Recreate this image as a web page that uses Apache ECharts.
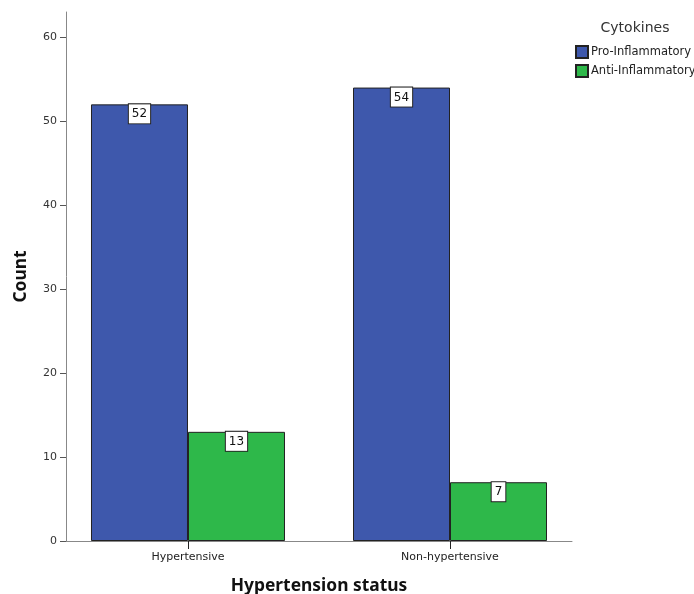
<!DOCTYPE html>
<html>
<head>
<meta charset="utf-8">
<script src="https://cdn.jsdelivr.net/npm/echarts@6/dist/echarts.min.js"></script>
<style>
html,body{margin:0;padding:0;background:#fff;}
#chart{width:694px;height:594px;}
</style>
</head>
<body>
<div id="chart"></div>
<script>
var categories = ['Hypertensive', 'Non-hypertensive'];
var seriesNames = ['Pro-Inflammatory', 'Anti-Inflammatory'];
var proValues = [52, 54];
var antiValues = [13, 7];
var yTicks = [0, 10, 20, 30, 40, 50, 60];

var chart = echarts.init(document.getElementById('chart'), null, {renderer: 'canvas'});
var catIdx = categories.map(function (c, i) { return i; });
function toPairs(vals) { return vals.map(function (v, i) { return [i, v]; }); }

var labelStyle = {
  show: true,
  position: 'insideTop',
  distance: 0,
  color: '#111',
  fontFamily: 'DejaVu Sans',
  fontSize: 12,
  backgroundColor: '#fff',
  borderColor: '#222',
  borderWidth: 1,
  padding: [4, 3, 3, 3]
};

chart.setOption({
  backgroundColor: '#fff',
  animation: false,
  grid: {left: 66, right: 122, top: 12, bottom: 53, containLabel: false, outerBoundsMode: 'none'},
  legend: {
    show: true,
    orient: 'vertical',
    left: 575,
    top: 45,
    padding: 0,
    itemWidth: 12,
    itemHeight: 12,
    itemGap: 5,
    icon: 'rect',
    textStyle: {fontFamily: 'DejaVu Sans', fontSize: 11.5, color: '#222', padding: [0, 0, 0, -2]},
    data: seriesNames
  },
  title: {
    text: 'Cytokines',
    left: 635,
    top: 21,
    padding: 0,
    textAlign: 'center',
    textStyle: {fontFamily: 'DejaVu Sans', fontSize: 14, fontWeight: 'normal', color: '#333'}
  },
  xAxis: {
    type: 'value',
    min: -0.4656,
    max: 1.4656,
    name: 'Hypertension status',
    nameLocation: 'middle',
    nameGap: 37,
    nameTextStyle: {fontFamily: 'Noto Sans', fontWeight: 'bold', fontSize: 17.4, color: '#111'},
    splitLine: {show: false},
    axisLine: {show: true, onZero: false, lineStyle: {color: '#888', width: 1}},
    axisTick: {show: true, length: 8, customValues: catIdx, lineStyle: {color: '#222'}},
    axisLabel: {
      show: true,
      customValues: catIdx,
      margin: 11,
      fontFamily: 'DejaVu Sans',
      fontSize: 11,
      color: '#222',
      formatter: function (v) { return categories[Math.round(v)]; }
    }
  },
  yAxis: {
    type: 'value',
    min: 0,
    max: 63,
    name: 'Count',
    nameLocation: 'middle',
    nameRotate: 90,
    nameGap: 36,
    nameTextStyle: {fontFamily: 'Noto Sans', fontWeight: 'bold', fontSize: 17.4, color: '#111'},
    splitLine: {show: false},
    axisLine: {show: true, onZero: false, lineStyle: {color: '#888', width: 1}},
    axisTick: {show: true, length: 6, customValues: yTicks, lineStyle: {color: '#555'}},
    axisLabel: {
      show: true,
      customValues: yTicks,
      margin: 9,
      fontFamily: 'DejaVu Sans',
      fontSize: 11,
      color: '#333'
    }
  },
  series: [
    {
      name: seriesNames[0],
      type: 'bar',
      barWidth: 97,
      barGap: '0%',
      data: toPairs(proValues),
      itemStyle: {color: '#3e58ac', borderColor: '#222', borderWidth: 1},
      label: labelStyle
    },
    {
      name: seriesNames[1],
      type: 'bar',
      barWidth: 97,
      barGap: '0%',
      data: toPairs(antiValues),
      itemStyle: {color: '#2eb84a', borderColor: '#222', borderWidth: 1},
      label: labelStyle
    }
  ]
});
</script>
</body>
</html>
